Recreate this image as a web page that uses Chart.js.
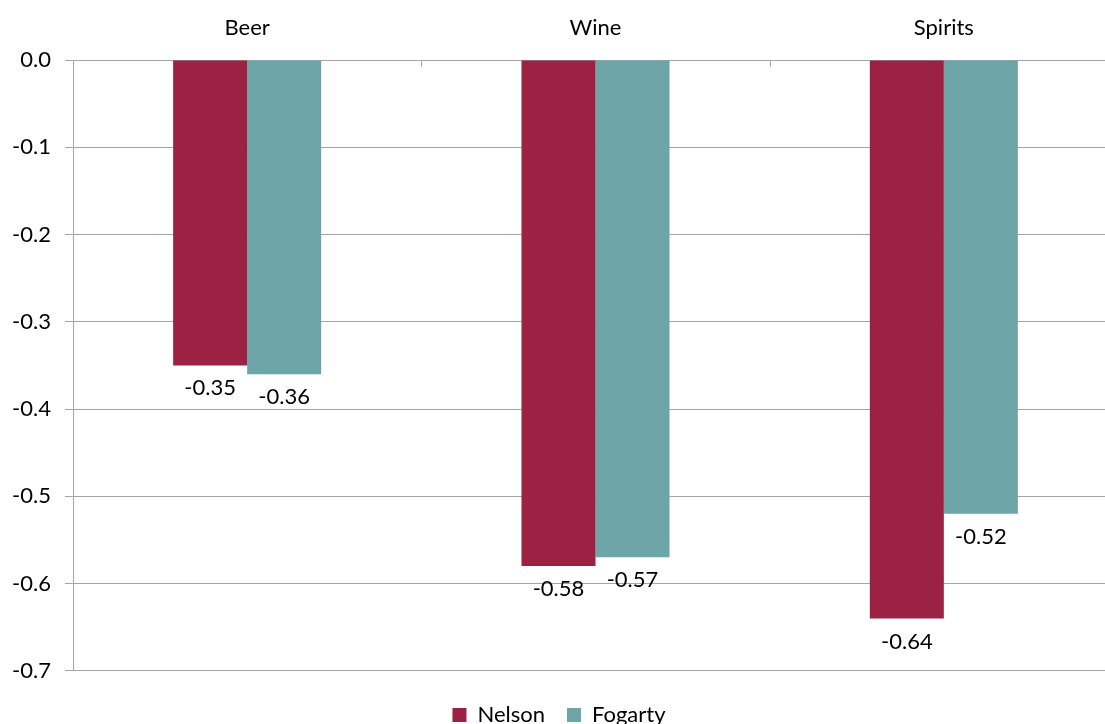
<!DOCTYPE html>
<html>
<head>
<meta charset="utf-8">
<script src="https://cdn.jsdelivr.net/npm/chart.js@4/dist/chart.umd.min.js"></script>
<style>
html,body{margin:0;padding:0;background:#fff;overflow:hidden;}
#wrap{width:1118px;height:724px;position:relative;overflow:hidden;}
</style>
</head>
<body>
<div id="wrap"><canvas id="c" width="1118" height="736"></canvas></div>
<script>
const categories = ["Beer", "Wine", "Spirits"];
const seriesNames = ["Nelson", "Fogarty"];
const nelsonValues = [-0.35, -0.58, -0.64];
const fogartyValues = [-0.36, -0.57, -0.52];
const yTicks = [0.0, -0.1, -0.2, -0.3, -0.4, -0.5, -0.6, -0.7];

const FONT = "Lato, 'Open Sans', sans-serif";
const FS = 22;
const GRID = "#a6a6a6";

const dataLabels = {
  id: "dataLabels",
  afterDatasetsDraw(chart) {
    const ctx = chart.ctx;
    ctx.save();
    ctx.font = FS + "px " + FONT;
    ctx.fillStyle = "#000";
    ctx.textAlign = "center";
    ctx.textBaseline = "middle";
    chart.data.datasets.forEach((ds, i) => {
      const meta = chart.getDatasetMeta(i);
      meta.data.forEach((bar, j) => {
        ctx.fillText(ds.data[j].toFixed(2), bar.x, bar.y + 23);
      });
    });
    ctx.restore();
  }
};

const xTickMarks = {
  id: "xTickMarks",
  afterDraw(chart) {
    const x = chart.scales.x, y = chart.scales.y;
    const ctx = chart.ctx;
    const top = y.getPixelForValue(0);
    ctx.save();
    ctx.strokeStyle = GRID;
    ctx.lineWidth = 1;
    for (let i = 0; i <= categories.length; i++) {
      const px = Math.round((x.getPixelForValue(i - 0.5))) + 0.5;
      ctx.beginPath();
      ctx.moveTo(px, top);
      ctx.lineTo(px, top + 7);
      ctx.stroke();
    }
    ctx.restore();
  }
};

new Chart(document.getElementById("c"), {
  type: "bar",
  data: {
    labels: categories,
    datasets: [
      { label: seriesNames[0], data: nelsonValues, backgroundColor: "#9c2243", borderWidth: 0 },
      { label: seriesNames[1], data: fogartyValues, backgroundColor: "#6ea5a8", borderWidth: 0 }
    ]
  },
  options: {
    responsive: false,
    animation: false,
    layout: { padding: { left: 0, right: 0, top: 0, bottom: 0 } },
    datasets: { bar: { categoryPercentage: 0.425, barPercentage: 1.0 } },
    plugins: {
      legend: {
        position: "bottom",
        title: { display: true, text: "", font: { size: 1 }, padding: { top: 10, bottom: 0 } },
        labels: {
          font: { family: FONT, size: FS },
          color: "#000",
          boxWidth: 14,
          boxHeight: 14,
          padding: 22
        }
      },
      tooltip: { enabled: false }
    },
    scales: {
      x: {
        position: "top",
        offset: true,
        grid: { display: false, drawOnChartArea: false, drawTicks: false },
        border: { display: true, color: GRID, width: 1 },
        ticks: { font: { family: FONT, size: FS }, color: "#000", padding: 19, maxRotation: 0 },
        afterFit(s) { s.height = 60; }
      },
      y: {
        min: -0.7,
        max: 0,
        afterBuildTicks(s) { s.ticks = yTicks.map(v => ({ value: v })); },
        grid: { color: GRID, lineWidth: 1, drawTicks: true, tickLength: 8, tickColor: GRID },
        border: { display: true, color: GRID, width: 1 },
        ticks: {
          font: { family: FONT, size: FS },
          color: "#000",
          padding: 14,
          callback: v => Number(v).toFixed(1)
        },
        afterFit(s) { s.width = 73; }
      }
    }
  },
  plugins: [dataLabels, xTickMarks]
});
</script>
</body>
</html>
